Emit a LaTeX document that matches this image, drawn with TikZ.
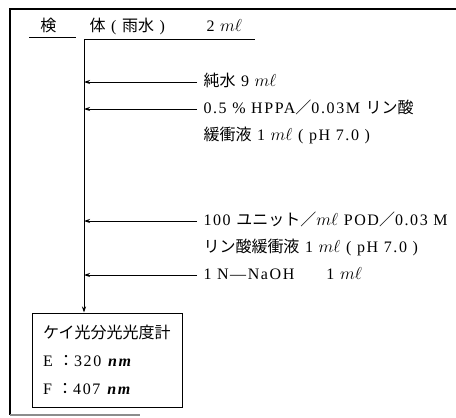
\documentclass[tikz,border=0pt]{standalone}
\usepackage{fontspec}
\setmainfont[LetterSpace=10]{Liberation Serif}
\newfontfamily\jp{Noto Sans CJK JP}
\usetikzlibrary{arrows.meta}
\tikzset{
  reagent/.style={anchor=west, inner sep=0pt, text height=11pt, text depth=3pt},
  feed/.style={line width=0.9pt, -{Stealth[length=6pt,width=4pt]}},
}
\begin{document}
\begin{tikzpicture}[x=1pt,y=-1pt,line width=1pt,font=\fontsize{16}{19}\selectfont]
\useasboundingbox (0,0) rectangle (456,418);
% frame, open on the right
\draw[line width=1.2pt] (456,9) -- (10,9) -- (10,415);
\draw[line width=1.2pt, black!45] (10,415) -- (140,415);
% header: sample
\node[reagent] (sample) at (40,27) {\jp 検};
\node[reagent] (rain) at (89,27) {{\jp 体} ( {\jp 雨水} )};
\node[reagent] (vol) at (206,27) {2 $m\ell$};
\draw (29,37) -- (76,37);
\draw (84,39) coordinate (stem) -- (255,39);
% reagents, 27 = line pitch
\node[reagent] (water) at (203,82) {{\jp 純水} 9 $m\ell$};
\node[reagent] (hppa) at (203,109) {0.5 \% HPPA{\jp ／}0.03M {\jp リン酸}};
\node[reagent] (hppa2) at (203,136) {{\jp 緩衝液} 1 $m\ell$ ( pH 7.0 )};
\node[reagent] (pod) at (203,221) {100 {\jp ユニット／}$m\ell$ POD{\jp ／}0.03 M};
\node[reagent] (pod2) at (203,248) {{\jp リン酸緩衝液} 1 $m\ell$ ( pH 7.0 )};
\node[reagent] (naoh) at (203,275) {1 N---NaOH\qquad 1 $m\ell$};
\foreach \r in {water,hppa,pod,naoh}
  \draw[feed] ([xshift=-6pt]\r.west) -- (\r.west -| stem);
% detector
\node[draw, line width=1pt, minimum width=150pt, minimum height=94pt,
  text width=128pt, inner xsep=11pt, align=left] (meter) at (107,360)
  {{\jp ケイ光分光光度計}\\[9pt]
   E {\jp ：}320 \textbf{\textit{nm}}\\[9pt]
   F {\jp ：}407 \textbf{\textit{nm}}};
\draw[feed] (stem) -- (stem |- meter.north);
\end{tikzpicture}
\end{document}
